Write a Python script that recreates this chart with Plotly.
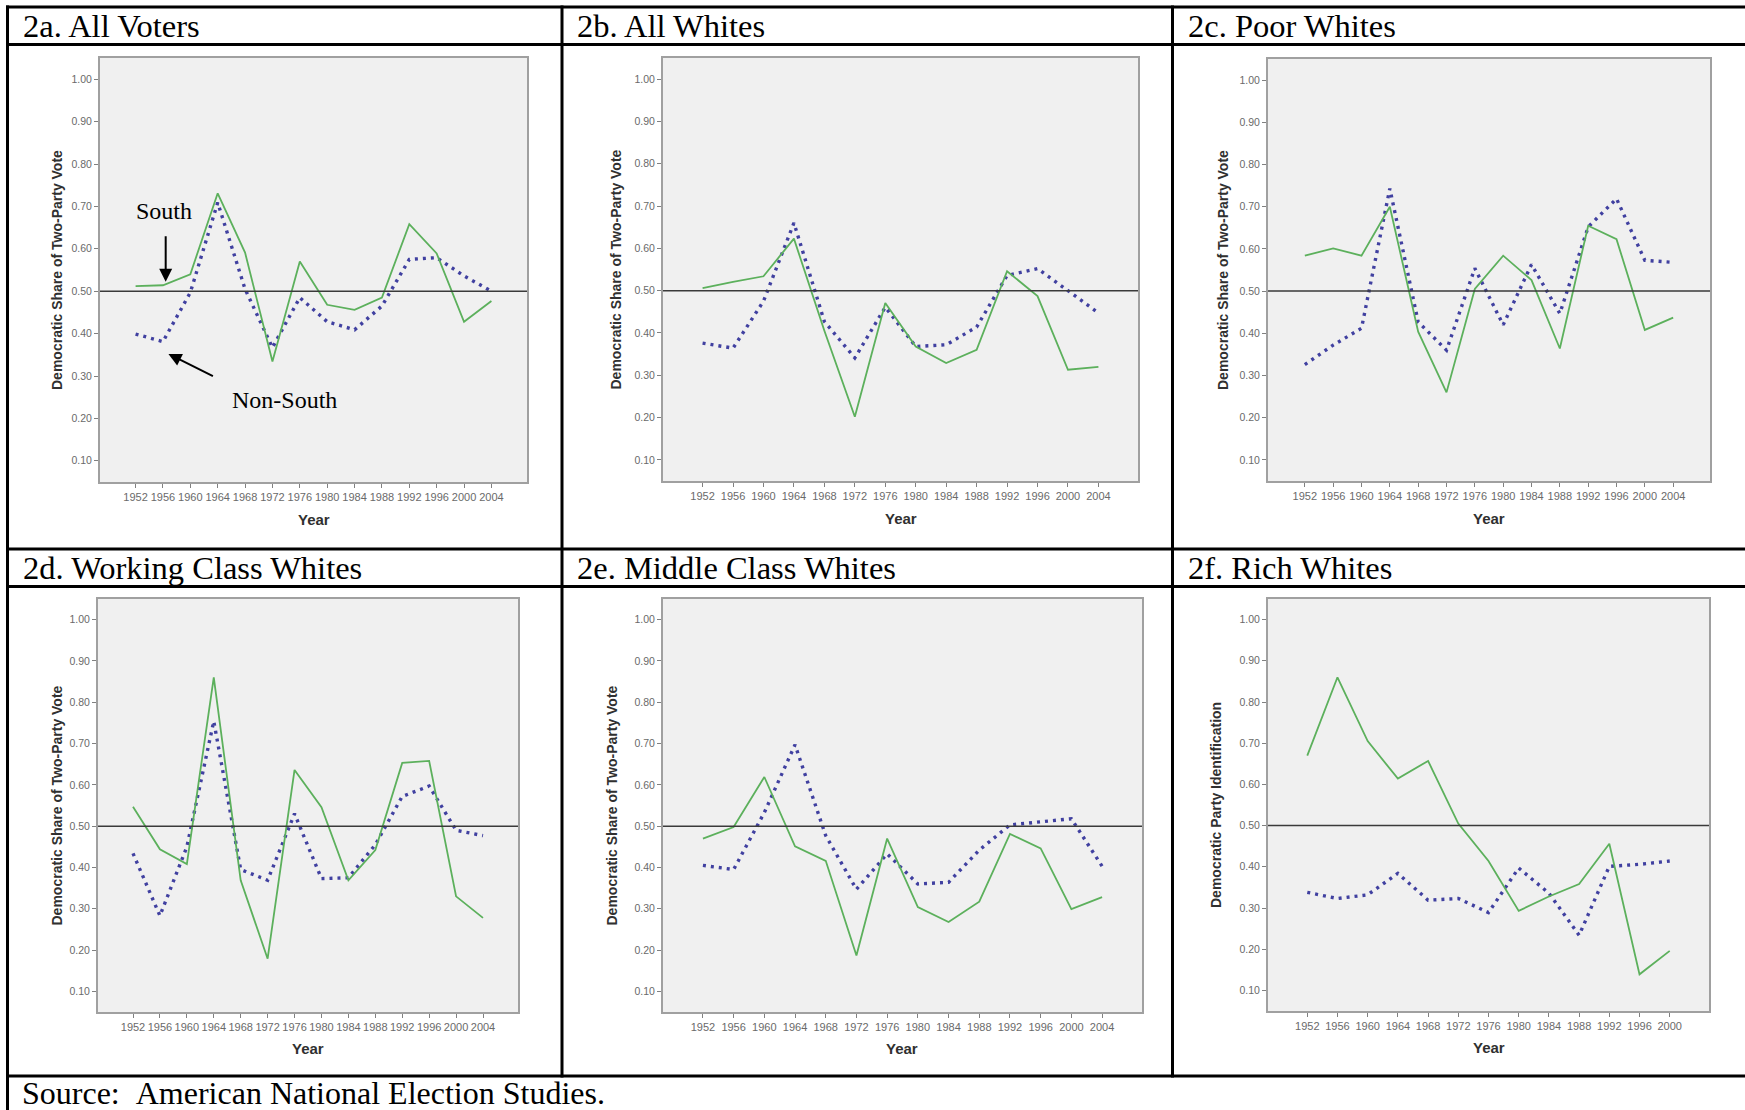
import plotly.graph_objects as go

W, H = 1745, 1110

# ---------------- data ----------------
years_2004 = ["1952", "1956", "1960", "1964", "1968", "1972", "1976",
              "1980", "1984", "1988", "1992", "1996", "2000", "2004"]
years_2000 = years_2004[:13]

south_all_voters = [0.512, 0.514, 0.540, 0.731, 0.591, 0.334, 0.570, 0.468, 0.456, 0.485, 0.658, 0.589, 0.428, 0.477]
nonsouth_all_voters = [0.399, 0.381, 0.497, 0.709, 0.505, 0.367, 0.485, 0.428, 0.409, 0.465, 0.575, 0.579, 0.536, 0.500]

south_all_whites = [0.506, 0.521, 0.534, 0.623, 0.405, 0.202, 0.471, 0.368, 0.329, 0.360, 0.546, 0.487, 0.313, 0.320]
nonsouth_all_whites = [0.376, 0.364, 0.475, 0.660, 0.427, 0.341, 0.461, 0.368, 0.372, 0.414, 0.536, 0.552, 0.500, 0.447]

south_poor_whites = [0.584, 0.601, 0.584, 0.700, 0.404, 0.260, 0.505, 0.584, 0.526, 0.364, 0.655, 0.623, 0.408, 0.437]
nonsouth_poor_whites = [0.326, 0.372, 0.412, 0.743, 0.427, 0.360, 0.554, 0.420, 0.563, 0.447, 0.652, 0.719, 0.573, 0.568]

south_working_whites = [0.547, 0.444, 0.408, 0.860, 0.369, 0.179, 0.636, 0.546, 0.369, 0.442, 0.653, 0.658, 0.330, 0.278]
nonsouth_working_whites = [0.434, 0.283, 0.450, 0.754, 0.395, 0.369, 0.530, 0.373, 0.375, 0.455, 0.572, 0.597, 0.490, 0.477]

south_middle_whites = [0.470, 0.498, 0.619, 0.451, 0.416, 0.187, 0.470, 0.304, 0.268, 0.317, 0.481, 0.446, 0.299, 0.328]
nonsouth_middle_whites = [0.405, 0.395, 0.533, 0.697, 0.477, 0.347, 0.433, 0.360, 0.364, 0.442, 0.503, 0.511, 0.518, 0.403]

south_rich_whites = [0.670, 0.860, 0.705, 0.614, 0.657, 0.505, 0.414, 0.293, 0.328, 0.358, 0.456, 0.139, 0.196]
nonsouth_rich_whites = [0.338, 0.323, 0.332, 0.384, 0.319, 0.323, 0.289, 0.397, 0.336, 0.234, 0.401, 0.406, 0.414]

panel_titles = ["2a. All Voters", "2b. All Whites", "2c. Poor Whites",
                "2d. Working Class Whites", "2e. Middle Class Whites", "2f. Rich Whites"]
y_titles = ["Democratic Share of Two-Party Vote"] * 5 + ["Democratic Party Identification"]
x_title = "Year"
y_ticks = [0.10, 0.20, 0.30, 0.40, 0.50, 0.60, 0.70, 0.80, 0.90, 1.00]
source_text = "Source: \u00a0American National Election Studies."

panels = [
    (years_2004, south_all_voters, nonsouth_all_voters),
    (years_2004, south_all_whites, nonsouth_all_whites),
    (years_2004, south_poor_whites, nonsouth_poor_whites),
    (years_2004, south_working_whites, nonsouth_working_whites),
    (years_2004, south_middle_whites, nonsouth_middle_whites),
    (years_2000, south_rich_whites, nonsouth_rich_whites),
]

# ---------------- layout geometry (pixels) ----------------
frames = [  # x0, x1, y0(top), y1(bottom)
    (100, 527, 58, 482),
    (663, 1138, 58, 481),
    (1268, 1710, 59, 481),
    (98, 518, 599, 1012),
    (663, 1142, 599, 1012),
    (1268, 1709, 599, 1011),
]
ytitle_offset = [43, 47, 45, 42, 52, 52]
xtitle_offset = [37, 37, 37, 36, 36, 36]

GREEN = "#5cb05c"
BLUE = "#4040a0"

def px(x):
    return x / W

def py(y):
    return 1 - y / H

fig = go.Figure()

for i, (cats, south, nonsouth) in enumerate(panels):
    n = i + 1
    xa = "x" if n == 1 else f"x{n}"
    ya = "y" if n == 1 else f"y{n}"
    fig.add_trace(go.Scatter(x=cats, y=nonsouth, mode="lines", xaxis=xa, yaxis=ya,
                             line=dict(color=BLUE, width=3.4, dash="3px,5px"),
                             showlegend=False, hoverinfo="skip"))
    fig.add_trace(go.Scatter(x=cats, y=south, mode="lines", xaxis=xa, yaxis=ya,
                             line=dict(color=GREEN, width=1.8),
                             showlegend=False, hoverinfo="skip"))
    x0, x1, y0, y1 = frames[i]
    axkey_x = "xaxis" if n == 1 else f"xaxis{n}"
    axkey_y = "yaxis" if n == 1 else f"yaxis{n}"
    fig.layout[axkey_x] = dict(
        domain=[px(x0), px(x1)], anchor=ya, type="category",
        categoryorder="array", categoryarray=cats,
        range=[-1.3, len(cats) - 1 + 1.3],
        showline=True, mirror=True, linecolor="#a0a0a0", linewidth=2,
        ticks="outside", ticklen=4, tickcolor="#808080", tickwidth=1,
        showgrid=False, zeroline=False,
        tickfont=dict(family="Liberation Sans", size=11, color="#6a6a6a"),
        tickangle=0,
    )
    fig.layout[axkey_y] = dict(
        domain=[py(y1), py(y0)], anchor=xa,
        range=[0.05, 1.05], tickvals=y_ticks, tickformat=".2f",
        showline=True, mirror=True, linecolor="#a0a0a0", linewidth=2,
        ticks="outside", ticklen=4, tickcolor="#808080", tickwidth=1,
        showgrid=False, zeroline=False,
        tickfont=dict(family="Liberation Sans", size=10.5, color="#6a6a6a"),
    )
    # reference line at 0.5
    fig.add_shape(type="line", xref=f"{xa} domain", yref=ya, x0=0, x1=1, y0=0.5, y1=0.5,
                  line=dict(color="#3a3a3a", width=1.5))
    # axis titles
    fig.add_annotation(text=y_titles[i], xref="paper", yref="paper",
                       x=px(x0 - ytitle_offset[i]), y=py((y0 + y1) / 2),
                       textangle=-90, showarrow=False, xanchor="center", yanchor="middle",
                       font=dict(family="Liberation Sans", size=14, color="#303030", weight="bold"))
    fig.add_annotation(text=x_title, xref="paper", yref="paper",
                       x=px((x0 + x1) / 2), y=py(y1 + xtitle_offset[i]),
                       showarrow=False, xanchor="center", yanchor="middle",
                       font=dict(family="Liberation Sans", size=15, color="#303030", weight="bold"))

for (x, y), t in zip([(21, 26), (575, 26), (1186, 26), (21, 568), (575, 568), (1186, 568)], panel_titles):
    fig.add_annotation(text=t, xref="paper", yref="paper", x=px(x), y=py(y),
                       showarrow=False, xanchor="left", yanchor="middle",
                       font=dict(family="Liberation Serif", size=32.5, color="black"))
fig.add_annotation(text=source_text, xref="paper", yref="paper", x=px(20), y=py(1093),
                   showarrow=False, xanchor="left", yanchor="middle",
                   font=dict(family="Liberation Serif", size=32, color="black"))

# South / Non-South labels with arrows (panel 2a)
fig.add_annotation(text="South", xref="x", yref="y", x=1.05, y=0.688, showarrow=False,
                   font=dict(family="Liberation Serif", size=24, color="black"))
fig.add_annotation(text="Non-South", xref="x", yref="y", x=5.45, y=0.244, showarrow=False,
                   font=dict(family="Liberation Serif", size=24, color="black"))
fig.add_annotation(text="", xref="x", yref="y", x=1.1, y=0.522, ax=0, ay=-47,
                   showarrow=True, arrowhead=2, arrowsize=1.3, arrowwidth=2, arrowcolor="black")
fig.add_annotation(text="", xref="x", yref="y", x=1.2, y=0.352, ax=46, ay=23,
                   showarrow=True, arrowhead=2, arrowsize=1.3, arrowwidth=2, arrowcolor="black")

# table rules
for yy in [7, 44.5, 549, 586.5, 1076]:
    fig.add_shape(type="line", xref="paper", yref="paper", x0=px(6), x1=px(W + 5), y0=py(yy), y1=py(yy),
                  line=dict(color="black", width=3))
fig.add_shape(type="line", xref="paper", yref="paper", x0=px(7.5), x1=px(7.5), y0=py(5.5), y1=py(H + 5),
              line=dict(color="black", width=3))
for xx in [562, 1172.5]:
    fig.add_shape(type="line", xref="paper", yref="paper", x0=px(xx), x1=px(xx), y0=py(5.5), y1=py(1077.5),
                  line=dict(color="black", width=3))

fig.update_layout(
    width=W, height=H, margin=dict(l=0, r=0, t=0, b=0),
    paper_bgcolor="white", plot_bgcolor="#f0f0f0",
    showlegend=False,
)

fig.write_html("out.html", config={"displayModeBar": False},
               post_script="document.body.style.margin='0px';document.body.style.overflow='hidden';")
